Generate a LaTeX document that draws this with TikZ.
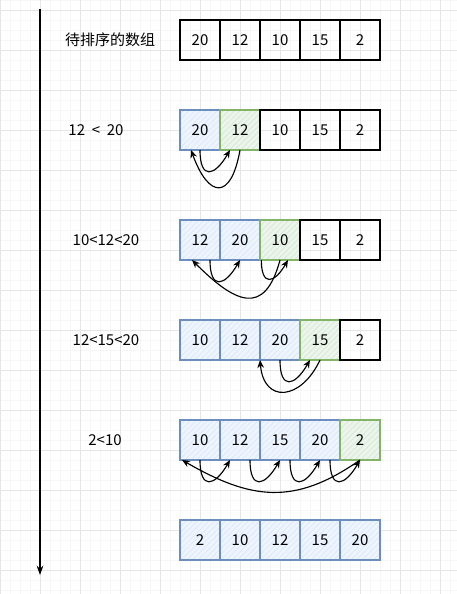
\documentclass[tikz,border=0pt]{standalone}
\usepackage{fontspec}
\newfontfamily\cjk{Noto Sans CJK SC}
\usetikzlibrary{positioning,arrows.meta,patterns.meta}
\definecolor{bluestroke}{HTML}{6C8EBF}
\definecolor{bluefill}{HTML}{DAE8FC}
\definecolor{greenstroke}{HTML}{82B366}
\definecolor{greenfill}{HTML}{D5E8D4}

\begin{document}
\begin{tikzpicture}[x=0.75pt, y=-0.75pt, node distance=0pt, thick,
  cell/.style = {draw, rectangle, minimum size=30pt, inner sep=0pt, outer sep=0pt, font=\cjk\fontsize{11.25}{13.5}\selectfont},
  done/.style = {cell, draw=bluestroke, preaction={fill=bluefill!45}, pattern={Lines[angle=45,distance=3pt,line width=0.5pt]}, pattern color=bluefill},
  cur/.style = {cell, draw=greenstroke, preaction={fill=greenfill!45}, pattern={Lines[angle=45,distance=3pt,line width=0.5pt]}, pattern color=greenfill},
  lbl/.style = {font=\cjk\fontsize{11.25}{13.5}\selectfont},
  swap/.style = {-{Stealth[length=6pt,width=5pt]}, line width=0.85pt},
  hop/.style = {swap, out=-90, in=-120, looseness=2.6},
  minorgrid/.style = {line width=0.4pt, draw=gray!7},
  majorgrid/.style = {line width=0.5pt, draw=gray!20}]
\useasboundingbox (0,0) rectangle (457,594);
\fill[white] (0,0) rectangle (457,594);
% background grid
\foreach \gx in {0,10,...,450} \draw[minorgrid] (\gx,0) -- (\gx,594);
\foreach \gy in {0,10,...,590} \draw[minorgrid] (0,\gy) -- (457,\gy);
\foreach \gx in {0,40,...,440} \draw[majorgrid] (\gx,0) -- (\gx,594);
\foreach \gy in {10,50,...,570} \draw[majorgrid] (0,\gy) -- (457,\gy);

% time axis
\coordinate (top) at (40,9);
\coordinate (bot) at (40,575);
\draw[-{Stealth[length=7pt,width=5pt]}, line width=0.9pt] (top) -- (bot);

% labels
\node[lbl] (t1) at (110,40) {待排序的数组};
\node[lbl] (t2) at (96,130) {12\ \ <\ \ 20};
\node[lbl] (t3) at (106,240) {10<12<20};
\node[lbl] (t4) at (106,340) {12<15<20};
\node[lbl] (t5) at (105,440) {2<10};

% row 1
\node[cell] (r1a) at (200,40) {20};
\node[cell] (r1b) [right=of r1a] {12};
\node[cell] (r1c) [right=of r1b] {10};
\node[cell] (r1d) [right=of r1c] {15};
\node[cell] (r1e) [right=of r1d] {2};

% row 2
\node[done] (r2a) at (200,130) {20};
\node[cur] (r2b) [right=of r2a] {12};
\node[cell] (r2c) [right=of r2b] {10};
\node[cell] (r2d) [right=of r2c] {15};
\node[cell] (r2e) [right=of r2d] {2};
\draw[hop] (r2a.south) to ([xshift=-7.5pt]r2b.south);
\draw[swap] (r2b.south) to[out=-100,in=-70,looseness=2.7] ([xshift=-6.75pt]r2a.south);

% row 3
\node[done] (r3a) at (200,240) {12};
\node[done] (r3b) [right=of r3a] {20};
\node[cur] (r3c) [right=of r3b] {10};
\node[cell] (r3d) [right=of r3c] {15};
\node[cell] (r3e) [right=of r3d] {2};
\draw[hop] ([xshift=7.5pt]r3a.south) to (r3b.south);
\draw[hop] ([xshift=1pt]r3c.south west) to ([xshift=6pt]r3c.south);
\draw[swap] (r3c.south) to[out=-105,in=-45,looseness=1.75] ([xshift=-6pt]r3a.south);

% row 4
\node[done] (r4a) at (200,340) {10};
\node[done] (r4b) [right=of r4a] {12};
\node[done] (r4c) [right=of r4b] {20};
\node[cur] (r4d) [right=of r4c] {15};
\node[cell] (r4e) [right=of r4d] {2};
\draw[hop] (r4c.south) to ([xshift=-7.5pt]r4d.south);
\draw[swap] (r4d.south) to[out=-115,in=-85,looseness=1.9] (r4c.south west);

% row 5
\node[done] (r5a) at (200,440) {10};
\node[done] (r5b) [right=of r5a] {12};
\node[done] (r5c) [right=of r5b] {15};
\node[done] (r5d) [right=of r5c] {20};
\node[cur] (r5e) [right=of r5d] {2};
\draw[hop] (r5a.south) to ([xshift=-7.5pt]r5b.south);
\draw[hop] ([xshift=7.5pt]r5b.south) to (r5c.south);
\draw[hop] ([xshift=7.5pt]r5c.south) to (r5d.south);
\draw[hop] ([xshift=7.5pt]r5d.south) to (r5e.south);
\draw[swap] (r5e.south) to[out=-145,in=-30,looseness=1.15] ([xshift=1.5pt]r5a.south west);

% row 6
\node[done] (r6a) at (200,540) {2};
\node[done] (r6b) [right=of r6a] {10};
\node[done] (r6c) [right=of r6b] {12};
\node[done] (r6d) [right=of r6c] {15};
\node[done] (r6e) [right=of r6d] {20};
\end{tikzpicture}
\end{document}
